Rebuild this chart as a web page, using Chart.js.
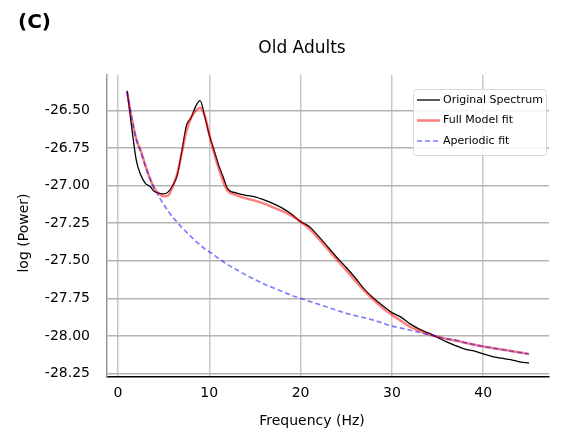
<!DOCTYPE html>
<html>
<head>
<meta charset="utf-8">
<script src="https://cdn.jsdelivr.net/npm/chart.js@4.4.1/dist/chart.umd.min.js"></script>
<style>
  html, body { margin: 0; padding: 0; background: #fff; }
  #wrap { width: 565px; height: 434px; }
</style>
</head>
<body>
<div id="wrap"><canvas id="psd" width="565" height="434"></canvas></div>
<script>
// Frequencies (Hz)
const freqs = [1, 1.5, 2, 2.5, 3, 3.5, 4, 4.5, 5, 5.5, 6, 6.5, 7, 7.5, 8, 8.5, 9, 9.5, 10, 10.5,
  11, 11.5, 12, 13, 14, 15, 16, 17, 18, 19, 20, 21, 22, 23, 24, 25, 26, 27, 28, 29, 30,
  31, 32, 33, 34, 35, 36, 37, 38, 39, 40, 41, 42, 43, 44, 45];

// Original spectrum
const original = [-26.37, -26.61, -26.83, -26.93, -26.985, -27.005, -27.04, -27.05, -27.056, -27.042,
  -27.0, -26.93, -26.77, -26.6, -26.55, -26.475, -26.436, -26.54, -26.665, -26.76,
  -26.86, -26.94, -27.02, -27.05, -27.065, -27.075, -27.095, -27.12, -27.15, -27.19, -27.24,
  -27.275, -27.34, -27.41, -27.48, -27.545, -27.615, -27.69, -27.75, -27.8, -27.845,
  -27.875, -27.92, -27.955, -27.98, -28.01, -28.04, -28.065, -28.088, -28.1, -28.12,
  -28.137, -28.148, -28.158, -28.172, -28.18];

// Full model fit
const fullModel = [-26.376, -26.55, -26.69, -26.77, -26.865, -26.955, -27.02, -27.055, -27.072, -27.066,
  -27.005, -26.92, -26.78, -26.64, -26.55, -26.505, -26.483, -26.535, -26.66, -26.78,
  -26.88, -26.97, -27.035, -27.065, -27.085, -27.1, -27.12, -27.145, -27.17, -27.2, -27.24,
  -27.29, -27.355, -27.425, -27.495, -27.565, -27.635, -27.7, -27.76, -27.815, -27.86,
  -27.9, -27.94, -27.965, -27.99, -28.005, -28.02, -28.03, -28.045, -28.058, -28.07,
  -28.08, -28.09, -28.1, -28.11, -28.12];

// Aperiodic fit
const aperiodic = [-26.376, -26.55, -26.69, -26.775, -26.87, -26.95, -27.02, -27.075, -27.125, -27.17,
  -27.21, -27.245, -27.28, -27.31, -27.34, -27.37, -27.395, -27.42, -27.44, -27.46,
  -27.485, -27.505, -27.525, -27.56, -27.595, -27.625, -27.655, -27.68, -27.705, -27.73, -27.75,
  -27.77, -27.79, -27.81, -27.83, -27.85, -27.865, -27.88, -27.895, -27.915, -27.935,
  -27.948, -27.962, -27.976, -27.99, -28.005, -28.02, -28.03, -28.045, -28.058, -28.07,
  -28.08, -28.09, -28.1, -28.11, -28.12];

const xTicks = [0, 10, 20, 30, 40];
const yTicks = [-26.5, -26.75, -27.0, -27.25, -27.5, -27.75, -28.0, -28.25];

Chart.defaults.font.family = '"DejaVu Sans", sans-serif';
Chart.defaults.color = '#000';

// Pair frequencies with values
function toPoints(values) {
  return freqs.map((f, i) => ({ x: f, y: values[i] }));
}

// Title, panel letter, axis titles and the legend box
const decorations = {
  id: 'decorations',
  afterDraw(chart) {
    const ctx = chart.ctx;
    ctx.save();
    ctx.fillStyle = '#000';
    ctx.textBaseline = 'middle';

    ctx.font = 'bold 20px "DejaVu Sans"';
    ctx.textAlign = 'left';
    ctx.fillText('(C)', 18, 23);

    ctx.font = '17px "DejaVu Sans"';
    ctx.textAlign = 'center';
    ctx.fillText('Old Adults', 302, 49);

    ctx.font = '14px "DejaVu Sans"';
    ctx.fillText('Frequency (Hz)', 312, 421);

    ctx.save();
    ctx.translate(24, 233);
    ctx.rotate(-Math.PI / 2);
    ctx.fillText('log (Power)', 0, 0);
    ctx.restore();

    // legend
    const bx = 413, by = 89, bw = 133, bh = 66;
    ctx.beginPath();
    ctx.roundRect(bx + 0.5, by + 0.5, bw, bh, 3);
    ctx.fillStyle = 'rgba(255,255,255,0.85)';
    ctx.fill();
    ctx.strokeStyle = '#d8d8d8';
    ctx.lineWidth = 1;
    ctx.stroke();

    ctx.font = '11px "DejaVu Sans"';
    ctx.textAlign = 'left';
    chart.data.datasets.forEach((ds, i) => {
      const y = by + 11 + i * 20.5;
      ctx.beginPath();
      ctx.setLineDash(ds.borderDash || []);
      ctx.strokeStyle = ds.borderColor;
      ctx.lineWidth = ds.borderWidth;
      ctx.moveTo(417, y);
      ctx.lineTo(440, y);
      ctx.stroke();
      ctx.setLineDash([]);
      ctx.fillStyle = '#000';
      ctx.fillText(ds.label, 443, y);
    });
    ctx.restore();
  }
};

new Chart(document.getElementById('psd'), {
  type: 'line',
  data: {
    datasets: [
      {
        label: 'Original Spectrum',
        data: toPoints(original),
        borderColor: '#000000',
        borderWidth: 1.3,
        pointRadius: 0,
        cubicInterpolationMode: 'monotone',
        order: 3
      },
      {
        label: 'Full Model fit',
        data: toPoints(fullModel),
        borderColor: 'rgba(255, 0, 0, 0.5)',
        borderWidth: 2.5,
        pointRadius: 0,
        cubicInterpolationMode: 'monotone',
        order: 2
      },
      {
        label: 'Aperiodic fit',
        data: toPoints(aperiodic),
        borderColor: 'rgba(0, 0, 255, 0.5)',
        borderWidth: 1.7,
        borderDash: [5, 3],
        pointRadius: 0,
        cubicInterpolationMode: 'monotone',
        order: 1
      }
    ]
  },
  options: {
    responsive: false,
    animation: false,
    devicePixelRatio: 1,
    layout: { padding: { top: 75, right: 16, left: 0, bottom: 0 } },
    plugins: {
      legend: { display: false },
      tooltip: { enabled: false },
      title: { display: false }
    },
    scales: {
      x: {
        type: 'linear',
        min: -1.2,
        max: 47.2,
        afterBuildTicks: (scale) => { scale.ticks = xTicks.map(v => ({ value: v })); },
        afterFit: (scale) => { scale.height = 57; },
        grid: { color: '#c8c8c8', lineWidth: 1.5, drawTicks: false },
        border: { color: '#000', width: 1.5 },
        ticks: { font: { size: 14 }, color: '#000', padding: 8, maxRotation: 0 }
      },
      y: {
        type: 'linear',
        min: -28.273,
        max: -26.265,
        afterBuildTicks: (scale) => { scale.ticks = yTicks.map(v => ({ value: v })); },
        afterFit: (scale) => { scale.width = 107; },
        grid: { color: '#b4b4b4', lineWidth: 1.5, drawTicks: false },
        border: { color: '#999', width: 1.5 },
        ticks: {
          font: { size: 14 },
          color: '#000',
          padding: 17,
          callback: (v) => v.toFixed(2)
        }
      }
    }
  },
  plugins: [decorations]
});
</script>
</body>
</html>
